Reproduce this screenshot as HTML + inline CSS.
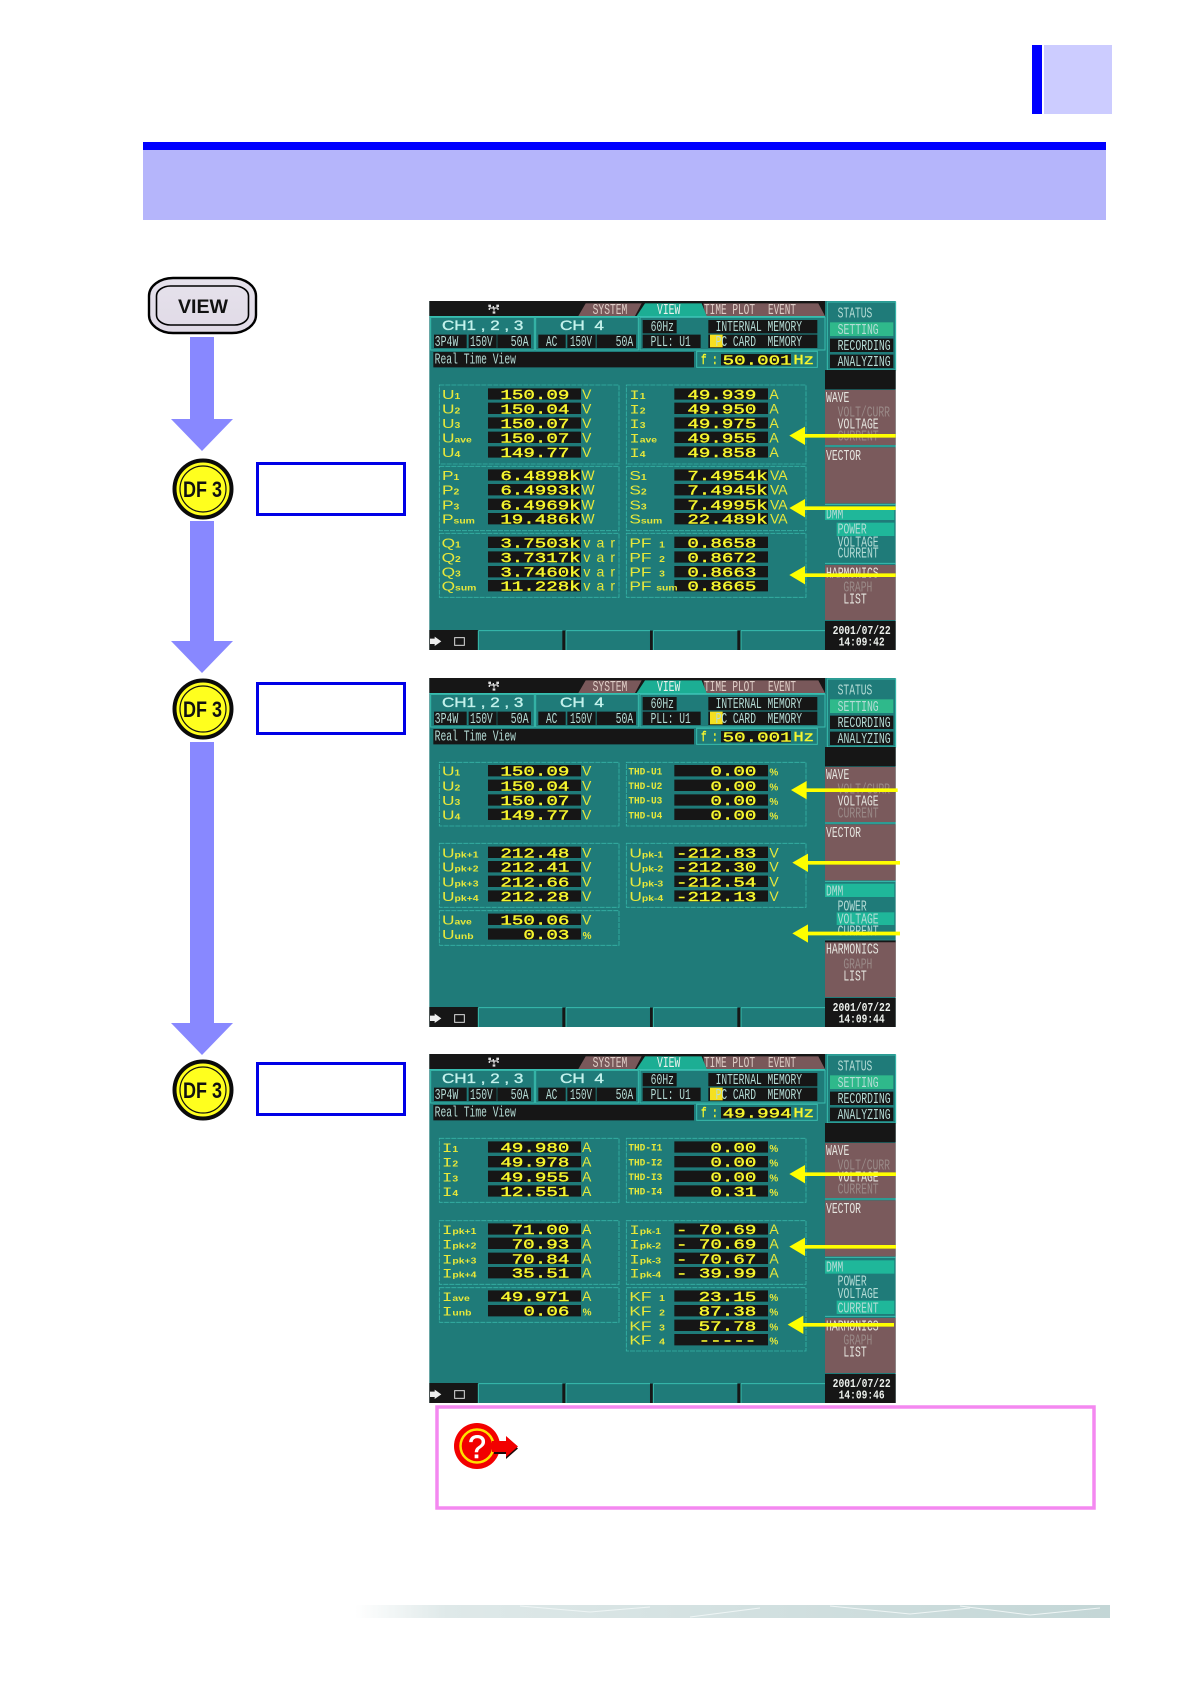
<!DOCTYPE html>
<html><head><meta charset="utf-8"><title>VIEW screens</title>
<style>
html,body{margin:0;padding:0;background:#fff}
svg{display:block}
text{white-space:pre}
.m{font-family:"Liberation Mono",monospace;font-size:44px;fill:#b5dcd6}
.w{fill:#e6e6e0}.d{fill:#9a8a88}.tb{fill:#e0cfc8}.wt{fill:#eef2ee}
.hd{font-family:"Liberation Sans",sans-serif;font-size:42px;fill:#c4f2ec;stroke:#c4f2ec;stroke-width:1}
.v{font-family:"Liberation Mono",monospace;font-size:42px;fill:#f6f62e;stroke:#f6f62e;stroke-width:1.2}
.u{font-family:"Liberation Sans",sans-serif;font-size:42px;fill:#e8e83a}
.l{font-family:"Liberation Sans",sans-serif;font-size:40px;fill:#e8e83a}
.li{font-family:"Liberation Mono",monospace;font-size:40px;fill:#e8e83a}
.s{font-size:24px;font-family:"Liberation Sans",sans-serif;font-weight:bold}
.t{font-family:"Liberation Mono",monospace;font-size:30px;fill:#e8e83a;font-weight:bold}
.p{font-family:"Liberation Sans",sans-serif;font-size:30px;fill:#e8e83a;font-weight:bold}
</style></head><body>
<svg width="1190" height="1684" viewBox="0 0 1190 1684" xmlns="http://www.w3.org/2000/svg">
<defs>
<linearGradient id="fg" x1="0" x2="1" y1="0" y2="0"><stop offset="0" stop-color="#fff"/><stop offset=".12" stop-color="#dfe9e9"/><stop offset="1" stop-color="#c3d6d6"/></linearGradient>
<linearGradient id="fv" x1="0" x2="0" y1="0" y2="1"><stop offset="0" stop-color="#e6e2ec"/><stop offset="1" stop-color="#e0dae6"/></linearGradient>
</defs>
<rect width="1190" height="1684" fill="#fff"/>
<!-- header -->
<rect x="1032" y="45" width="10" height="69" fill="#0000ff"/>
<rect x="1044" y="45" width="68" height="69" fill="#ccccff"/>
<rect x="143" y="142" width="963" height="8" fill="#0000ff"/>
<rect x="143" y="150" width="963" height="70" fill="#b5b5fb"/>
<!-- flow left -->
<rect x="149" y="278" width="107" height="55" rx="24" ry="18" fill="url(#fv)" stroke="#000" stroke-width="2.400"/>
<rect x="156.500" y="286" width="92" height="39" rx="14" ry="10" fill="none" stroke="#000" stroke-width="1.600"/>
<text x="178" y="313" textLength="50" lengthAdjust="spacingAndGlyphs" font-family="Liberation Sans,sans-serif" font-weight="bold" font-size="19" fill="#111">VIEW</text>
<g fill="#8888ff">
<path d="M190 337h24v82h19l-31 32-31-32h19z"/>
<path d="M190 521h24v120h19l-31 32-31-32h19z"/>
<path d="M190 742h24v281h19l-31 32-31-32h19z"/>
</g>
<g font-family="Liberation Sans,sans-serif" font-weight="bold" font-size="22" fill="#111">
<circle cx="203" cy="489" r="28.500" fill="#ffff1e" stroke="#0b0b0b" stroke-width="4"/><circle cx="203" cy="489" r="23" fill="none" stroke="#111" stroke-width="1.200"/><text x="183" y="497" textLength="39" lengthAdjust="spacingAndGlyphs">DF 3</text>
<circle cx="203" cy="709" r="28.500" fill="#ffff1e" stroke="#0b0b0b" stroke-width="4"/><circle cx="203" cy="709" r="23" fill="none" stroke="#111" stroke-width="1.200"/><text x="183" y="717" textLength="39" lengthAdjust="spacingAndGlyphs">DF 3</text>
<circle cx="203" cy="1090" r="28.500" fill="#ffff1e" stroke="#0b0b0b" stroke-width="4"/><circle cx="203" cy="1090" r="23" fill="none" stroke="#111" stroke-width="1.200"/><text x="183" y="1098" textLength="39" lengthAdjust="spacingAndGlyphs">DF 3</text>
</g>
<g fill="#fff" stroke="#0000e6" stroke-width="3">
<rect x="257.500" y="463.500" width="147" height="51"/>
<rect x="257.500" y="683.500" width="147" height="50"/>
<rect x="257.500" y="1063.500" width="147" height="51"/>
</g>

<!-- SCREEN 1 -->
<g transform="translate(420,290) scale(.33333)">
<rect x="28" y="33" width="1399" height="1047" fill="#1f7b79"/>
<rect x="28" y="33" width="1187" height="45" fill="#161616"/>
<rect x="28" y="78" width="1187" height="3" fill="#37bfb0"/>
<path d="M475 78l22-38h168l-20 38zM855 78l-5-38h170l25 38zM1020 40h175l20 38H1045z" fill="#79585a"/><path d="M650 78l25-38h170l15 38z" fill="#1cae94"/>
<path d="M220 48v6M208 54h26M208 54v6M234 54v6M222 54v8" stroke="#ddd" stroke-width="4" fill="none"/><path d="M205 44h8v7h-8zM229 44h8v7h-8zM218 64h8v7h-8z" fill="#ddd"/>
<text class="m tb" x="518" y="72" textLength="104" lengthAdjust="spacingAndGlyphs">SYSTEM</text><text class="m wt" x="711" y="72" textLength="70" lengthAdjust="spacingAndGlyphs">VIEW</text><text class="m tb" x="852" y="72" textLength="153" lengthAdjust="spacingAndGlyphs">TIME PLOT</text><text class="m tb" x="1044" y="72" textLength="84" lengthAdjust="spacingAndGlyphs">EVENT</text>
<g fill="none" stroke="#38bdae" stroke-width="3"><rect x="32" y="82" width="311" height="98"/><rect x="347" y="82" width="308" height="98"/><rect x="660" y="82" width="555" height="98"/><rect x="830" y="184" width="362" height="48"/></g>
<path d="M42 134h98v40H42zM146 134h84v40h-84zM232 134h101v40H232zM355 134h82v40h-82zM442 134h85v40h-85zM530 134h118v40H530zM668 90h102v40H668zM668 134h174v40H668zM865 90h327v40H865zM865 134h327v40H865zM40 186h782v46H40zM903 192h210v34H903z" fill="#161616"/>
<rect x="870" y="134" width="38" height="38" fill="#f5e020"/>
<text class="hd" x="66" y="120" textLength="244" lengthAdjust="spacingAndGlyphs">CH1 , 2 , 3</text><text class="hd" x="420" y="120" textLength="132" lengthAdjust="spacingAndGlyphs">CH  4</text>
<text class="m" x="44" y="168" textLength="71" lengthAdjust="spacingAndGlyphs">3P4W</text><text class="m" x="150" y="168" textLength="68" lengthAdjust="spacingAndGlyphs">150V</text><text class="m" x="272" y="168" textLength="54" lengthAdjust="spacingAndGlyphs">50A</text><text class="m" x="378" y="168" textLength="34" lengthAdjust="spacingAndGlyphs">AC</text><text class="m" x="450" y="168" textLength="66" lengthAdjust="spacingAndGlyphs">150V</text><text class="m" x="587" y="168" textLength="53" lengthAdjust="spacingAndGlyphs">50A</text>
<text class="m" x="692" y="123" textLength="70" lengthAdjust="spacingAndGlyphs">60Hz</text><text class="m" x="692" y="168" textLength="120" lengthAdjust="spacingAndGlyphs">PLL: U1</text><text class="m" x="887" y="123" textLength="259" lengthAdjust="spacingAndGlyphs">INTERNAL MEMORY</text><text class="m" x="887" y="168" textLength="259" lengthAdjust="spacingAndGlyphs">PC CARD  MEMORY</text>
<text class="m" x="44" y="220" textLength="244" lengthAdjust="spacingAndGlyphs">Real Time View</text>
<text class="v" x="843" y="222" textLength="50" lengthAdjust="spacingAndGlyphs">f :</text><text class="v" x="908" y="224" textLength="207" lengthAdjust="spacingAndGlyphs">50.001</text><text class="v" x="1120" y="222" textLength="62" lengthAdjust="spacingAndGlyphs">Hz</text>
<rect x="1222" y="36" width="205" height="204" fill="#1f7b79" stroke="#38bdae" stroke-width="3"/><rect x="1230" y="97" width="190" height="41" fill="#2fb98b"/><path d="M1230 146h190v40H1230zM1230 194h190v40H1230zM1215 240h212v58H1215zM1215 993h212v87H1215z" fill="#161616"/>
<path d="M1215 300h212v165H1215zM1215 472h212v168H1215zM1215 825h212v165H1215z" fill="#7a5a5c"/>
<rect x="1215" y="660" width="208" height="30" fill="#1fb79a"/><rect x="1250" y="698" width="173" height="40" fill="#1fb79a"/>
<path d="M1215 468h212M1215 643h212M1215 820h212" stroke="#38bdae" stroke-width="3"/>
<text class="m" x="1253" y="82" textLength="104" lengthAdjust="spacingAndGlyphs">STATUS</text><text class="m" x="1253" y="132" textLength="123" lengthAdjust="spacingAndGlyphs">SETTING</text><text class="m" x="1253" y="180" textLength="159" lengthAdjust="spacingAndGlyphs">RECORDING</text><text class="m" x="1253" y="228" textLength="159" lengthAdjust="spacingAndGlyphs">ANALYZING</text>
<text class="m w" x="1218" y="336" textLength="70" lengthAdjust="spacingAndGlyphs">WAVE</text><text class="m d" x="1253" y="380" textLength="157" lengthAdjust="spacingAndGlyphs">VOLT/CURR</text><text class="m w" x="1253" y="416" textLength="123" lengthAdjust="spacingAndGlyphs">VOLTAGE</text><text class="m d" x="1253" y="452" textLength="123" lengthAdjust="spacingAndGlyphs">CURRENT</text><text class="m w" x="1218" y="510" textLength="105" lengthAdjust="spacingAndGlyphs">VECTOR</text>
<text class="m" x="1218" y="686" textLength="52" lengthAdjust="spacingAndGlyphs">DMM</text><text class="m" x="1253" y="730" textLength="87" lengthAdjust="spacingAndGlyphs">POWER</text><text class="m" x="1253" y="770" textLength="123" lengthAdjust="spacingAndGlyphs">VOLTAGE</text><text class="m" x="1253" y="802" textLength="123" lengthAdjust="spacingAndGlyphs">CURRENT</text>
<text class="m w" x="1218" y="862" textLength="158" lengthAdjust="spacingAndGlyphs">HARMONICS</text><text class="m d" x="1270" y="904" textLength="87" lengthAdjust="spacingAndGlyphs">GRAPH</text><text class="m w" x="1270" y="940" textLength="70" lengthAdjust="spacingAndGlyphs">LIST</text>
<text class="m wt" x="1238" y="1032" textLength="174" lengthAdjust="spacingAndGlyphs" font-weight="bold" style="font-size:36px">2001/07/22</text><text class="m wt" x="1256" y="1066" textLength="138" lengthAdjust="spacingAndGlyphs" font-weight="bold" style="font-size:36px">14:09:42</text>
<path d="M28 1020h147v60H28zM427 1022h11v58h-11zM690 1022h10v58h-10zM952 1022h11v58h-11z" fill="#161616"/><path d="M175 1022h252M438 1022h252M700 1022h252M963 1022h252M175 1022v58M438 1022v58M700 1022v58M963 1022v58" stroke="#38bdae" stroke-width="3" fill="none"/>
<path d="M30 1046h14v-6l20 14-20 14v-6H30z" fill="#eee"/><rect x="104" y="1043" width="29" height="23" fill="none" stroke="#ddd" stroke-width="3"/>
<path d="M58 285H597V522H58zM619 285H1158V522H619zM58 529H597V722H58zM619 529H1158V722H619zM58 730H597V922H58zM619 730H1158V922H619z" fill="none" stroke="#36b5a8" stroke-width="2.500" stroke-dasharray="12 0 3 3"/>
<path d="M204 295h279v34H204zM204 338h279v34H204zM204 382h279v34H204zM204 425h279v34H204zM204 469h279v34H204zM204 538h279v34H204zM204 582h279v34H204zM204 626h279v34H204zM204 669h279v34H204zM204 740h279v34H204zM204 784h279v34H204zM204 828h279v34H204zM204 870h279v34H204zM763 295h281v34H763zM763 338h281v34H763zM763 382h281v34H763zM763 425h281v34H763zM763 469h281v34H763zM763 538h281v34H763zM763 582h281v34H763zM763 626h281v34H763zM763 669h281v34H763zM763 740h281v34H763zM763 784h281v34H763zM763 828h281v34H763zM763 870h281v34H763z" fill="#161616"/>
<g transform="translate(66,0) scale(1.3,1) translate(-66,0)">
<text class="l" x="66" y="327">U<tspan class="s">1</tspan></text><text class="l" x="66" y="370">U<tspan class="s">2</tspan></text><text class="l" x="66" y="414">U<tspan class="s">3</tspan></text><text class="l" x="66" y="457">U<tspan class="s">ave</tspan></text><text class="l" x="66" y="501">U<tspan class="s">4</tspan></text>
<text class="l" x="66" y="570">P<tspan class="s">1</tspan></text><text class="l" x="66" y="614">P<tspan class="s">2</tspan></text><text class="l" x="66" y="658">P<tspan class="s">3</tspan></text><text class="l" x="66" y="701">P<tspan class="s">sum</tspan></text>
<text class="l" x="65" y="772">Q<tspan class="s">1</tspan></text><text class="l" x="65" y="816">Q<tspan class="s">2</tspan></text><text class="l" x="65" y="860">Q<tspan class="s">3</tspan></text><text class="l" x="65" y="902">Q<tspan class="s">sum</tspan></text>
</g>
<text class="v" x="241" y="327" textLength="207" lengthAdjust="spacingAndGlyphs">150.09</text><text class="v" x="241" y="370" textLength="207" lengthAdjust="spacingAndGlyphs">150.04</text><text class="v" x="241" y="414" textLength="207" lengthAdjust="spacingAndGlyphs">150.07</text><text class="v" x="241" y="457" textLength="207" lengthAdjust="spacingAndGlyphs">150.07</text><text class="v" x="241" y="501" textLength="207" lengthAdjust="spacingAndGlyphs">149.77</text>
<text class="v" x="241" y="570" textLength="241" lengthAdjust="spacingAndGlyphs">6.4898k</text><text class="v" x="241" y="614" textLength="241" lengthAdjust="spacingAndGlyphs">6.4993k</text><text class="v" x="241" y="658" textLength="241" lengthAdjust="spacingAndGlyphs">6.4969k</text><text class="v" x="241" y="701" textLength="241" lengthAdjust="spacingAndGlyphs">19.486k</text>
<text class="v" x="241" y="772" textLength="241" lengthAdjust="spacingAndGlyphs">3.7503k</text><text class="v" x="241" y="816" textLength="241" lengthAdjust="spacingAndGlyphs">3.7317k</text><text class="v" x="241" y="860" textLength="241" lengthAdjust="spacingAndGlyphs">3.7460k</text><text class="v" x="241" y="902" textLength="241" lengthAdjust="spacingAndGlyphs">11.228k</text>
<text class="u" x="486" y="327">V</text><text class="u" x="486" y="370">V</text><text class="u" x="486" y="414">V</text><text class="u" x="486" y="457">V</text><text class="u" x="486" y="501">V</text>
<text class="u" x="484" y="570">W</text><text class="u" x="484" y="614">W</text><text class="u" x="484" y="658">W</text><text class="u" x="484" y="701">W</text>
<text class="u" x="490" y="772" textLength="95" lengthAdjust="spacing">var</text><text class="u" x="490" y="816" textLength="95" lengthAdjust="spacing">var</text><text class="u" x="490" y="860" textLength="95" lengthAdjust="spacing">var</text><text class="u" x="490" y="902" textLength="95" lengthAdjust="spacing">var</text>
<g transform="translate(628,0) scale(1.3,1) translate(-628,0)">
<text class="li" x="628" y="327">I<tspan class="s">1</tspan></text><text class="li" x="628" y="370">I<tspan class="s">2</tspan></text><text class="li" x="628" y="414">I<tspan class="s">3</tspan></text><text class="li" x="628" y="457">I<tspan class="s">ave</tspan></text><text class="li" x="628" y="501">I<tspan class="s">4</tspan></text>
<text class="l" x="628" y="570">S<tspan class="s">1</tspan></text><text class="l" x="628" y="614">S<tspan class="s">2</tspan></text><text class="l" x="628" y="658">S<tspan class="s">3</tspan></text><text class="l" x="628" y="701">S<tspan class="s">sum</tspan></text>
<text class="l" x="628" y="772">PF <tspan class="s"> 1</tspan></text><text class="l" x="628" y="816">PF <tspan class="s"> 2</tspan></text><text class="l" x="628" y="860">PF <tspan class="s"> 3</tspan></text><text class="l" x="628" y="902">PF <tspan class="s">sum</tspan></text>
</g>
<text class="v" x="802" y="327" textLength="207" lengthAdjust="spacingAndGlyphs">49.939</text><text class="v" x="802" y="370" textLength="207" lengthAdjust="spacingAndGlyphs">49.950</text><text class="v" x="802" y="414" textLength="207" lengthAdjust="spacingAndGlyphs">49.975</text><text class="v" x="802" y="457" textLength="207" lengthAdjust="spacingAndGlyphs">49.955</text><text class="v" x="802" y="501" textLength="207" lengthAdjust="spacingAndGlyphs">49.858</text>
<text class="v" x="802" y="570" textLength="241" lengthAdjust="spacingAndGlyphs">7.4954k</text><text class="v" x="802" y="614" textLength="241" lengthAdjust="spacingAndGlyphs">7.4945k</text><text class="v" x="802" y="658" textLength="241" lengthAdjust="spacingAndGlyphs">7.4995k</text><text class="v" x="802" y="701" textLength="241" lengthAdjust="spacingAndGlyphs">22.489k</text>
<text class="v" x="802" y="772" textLength="207" lengthAdjust="spacingAndGlyphs">0.8658</text><text class="v" x="802" y="816" textLength="207" lengthAdjust="spacingAndGlyphs">0.8672</text><text class="v" x="802" y="860" textLength="207" lengthAdjust="spacingAndGlyphs">0.8663</text><text class="v" x="802" y="902" textLength="207" lengthAdjust="spacingAndGlyphs">0.8665</text>
<text class="u" x="1048" y="327">A</text><text class="u" x="1048" y="370">A</text><text class="u" x="1048" y="414">A</text><text class="u" x="1048" y="457">A</text><text class="u" x="1048" y="501">A</text>
<text class="u" x="1050" y="570">VA</text><text class="u" x="1050" y="614">VA</text><text class="u" x="1050" y="658">VA</text><text class="u" x="1050" y="701">VA</text>
<g fill="#ffff00"><path d="M1108 437l47-27v22h272v11H1155v22z"/><path d="M1108 654l47-27v22h272v11H1155v22z"/><path d="M1108 855l47-27v22h272v11H1155v22z"/></g>
</g>

<!-- SCREEN 2 -->
<g transform="translate(420,667)  scale(.33333)">
<rect x="28" y="33" width="1399" height="1047" fill="#1f7b79"/>
<rect x="28" y="33" width="1187" height="45" fill="#161616"/>
<rect x="28" y="78" width="1187" height="3" fill="#37bfb0"/>
<path d="M475 78l22-38h168l-20 38zM855 78l-5-38h170l25 38zM1020 40h175l20 38H1045z" fill="#79585a"/><path d="M650 78l25-38h170l15 38z" fill="#1cae94"/>
<path d="M220 48v6M208 54h26M208 54v6M234 54v6M222 54v8" stroke="#ddd" stroke-width="4" fill="none"/><path d="M205 44h8v7h-8zM229 44h8v7h-8zM218 64h8v7h-8z" fill="#ddd"/>
<text class="m tb" x="518" y="72" textLength="104" lengthAdjust="spacingAndGlyphs">SYSTEM</text><text class="m wt" x="711" y="72" textLength="70" lengthAdjust="spacingAndGlyphs">VIEW</text><text class="m tb" x="852" y="72" textLength="153" lengthAdjust="spacingAndGlyphs">TIME PLOT</text><text class="m tb" x="1044" y="72" textLength="84" lengthAdjust="spacingAndGlyphs">EVENT</text>
<g fill="none" stroke="#38bdae" stroke-width="3"><rect x="32" y="82" width="311" height="98"/><rect x="347" y="82" width="308" height="98"/><rect x="660" y="82" width="555" height="98"/><rect x="830" y="184" width="362" height="48"/></g>
<path d="M42 134h98v40H42zM146 134h84v40h-84zM232 134h101v40H232zM355 134h82v40h-82zM442 134h85v40h-85zM530 134h118v40H530zM668 90h102v40H668zM668 134h174v40H668zM865 90h327v40H865zM865 134h327v40H865zM40 186h782v46H40zM903 192h210v34H903z" fill="#161616"/>
<rect x="870" y="134" width="38" height="38" fill="#f5e020"/>
<text class="hd" x="66" y="120" textLength="244" lengthAdjust="spacingAndGlyphs">CH1 , 2 , 3</text><text class="hd" x="420" y="120" textLength="132" lengthAdjust="spacingAndGlyphs">CH  4</text>
<text class="m" x="44" y="168" textLength="71" lengthAdjust="spacingAndGlyphs">3P4W</text><text class="m" x="150" y="168" textLength="68" lengthAdjust="spacingAndGlyphs">150V</text><text class="m" x="272" y="168" textLength="54" lengthAdjust="spacingAndGlyphs">50A</text><text class="m" x="378" y="168" textLength="34" lengthAdjust="spacingAndGlyphs">AC</text><text class="m" x="450" y="168" textLength="66" lengthAdjust="spacingAndGlyphs">150V</text><text class="m" x="587" y="168" textLength="53" lengthAdjust="spacingAndGlyphs">50A</text>
<text class="m" x="692" y="123" textLength="70" lengthAdjust="spacingAndGlyphs">60Hz</text><text class="m" x="692" y="168" textLength="120" lengthAdjust="spacingAndGlyphs">PLL: U1</text><text class="m" x="887" y="123" textLength="259" lengthAdjust="spacingAndGlyphs">INTERNAL MEMORY</text><text class="m" x="887" y="168" textLength="259" lengthAdjust="spacingAndGlyphs">PC CARD  MEMORY</text>
<text class="m" x="44" y="220" textLength="244" lengthAdjust="spacingAndGlyphs">Real Time View</text>
<text class="v" x="843" y="222" textLength="50" lengthAdjust="spacingAndGlyphs">f :</text><text class="v" x="908" y="224" textLength="207" lengthAdjust="spacingAndGlyphs">50.001</text><text class="v" x="1120" y="222" textLength="62" lengthAdjust="spacingAndGlyphs">Hz</text>
<rect x="1222" y="36" width="205" height="204" fill="#1f7b79" stroke="#38bdae" stroke-width="3"/><rect x="1230" y="97" width="190" height="41" fill="#2fb98b"/><path d="M1230 146h190v40H1230zM1230 194h190v40H1230zM1215 240h212v58H1215zM1215 993h212v87H1215z" fill="#161616"/>
<path d="M1215 300h212v165H1215zM1215 472h212v168H1215zM1215 825h212v165H1215z" fill="#7a5a5c"/>
<rect x="1215" y="650" width="208" height="40" fill="#1fb79a"/><rect x="1250" y="736" width="173" height="38" fill="#1fb79a"/>
<path d="M1215 468h212M1215 643h212M1215 820h212" stroke="#38bdae" stroke-width="3"/>
<text class="m" x="1253" y="82" textLength="104" lengthAdjust="spacingAndGlyphs">STATUS</text><text class="m" x="1253" y="132" textLength="123" lengthAdjust="spacingAndGlyphs">SETTING</text><text class="m" x="1253" y="180" textLength="159" lengthAdjust="spacingAndGlyphs">RECORDING</text><text class="m" x="1253" y="228" textLength="159" lengthAdjust="spacingAndGlyphs">ANALYZING</text>
<text class="m w" x="1218" y="336" textLength="70" lengthAdjust="spacingAndGlyphs">WAVE</text><text class="m d" x="1253" y="380" textLength="157" lengthAdjust="spacingAndGlyphs">VOLT/CURR</text><text class="m w" x="1253" y="416" textLength="123" lengthAdjust="spacingAndGlyphs">VOLTAGE</text><text class="m d" x="1253" y="452" textLength="123" lengthAdjust="spacingAndGlyphs">CURRENT</text><text class="m w" x="1218" y="510" textLength="105" lengthAdjust="spacingAndGlyphs">VECTOR</text>
<text class="m" x="1218" y="686" textLength="52" lengthAdjust="spacingAndGlyphs">DMM</text><text class="m" x="1253" y="730" textLength="87" lengthAdjust="spacingAndGlyphs">POWER</text><text class="m" x="1253" y="770" textLength="123" lengthAdjust="spacingAndGlyphs">VOLTAGE</text><text class="m" x="1253" y="806" textLength="123" lengthAdjust="spacingAndGlyphs">CURRENT</text>
<rect x="1215" y="820" width="212" height="6" fill="#161616"/><path d="M1215 826h212v164H1215z" fill="#7a5a5c"/>
<text class="m w" x="1218" y="860" textLength="158" lengthAdjust="spacingAndGlyphs">HARMONICS</text><text class="m d" x="1270" y="904" textLength="87" lengthAdjust="spacingAndGlyphs">GRAPH</text><text class="m w" x="1270" y="940" textLength="70" lengthAdjust="spacingAndGlyphs">LIST</text>
<text class="m wt" x="1238" y="1032" textLength="174" lengthAdjust="spacingAndGlyphs" font-weight="bold" style="font-size:36px">2001/07/22</text><text class="m wt" x="1256" y="1066" textLength="138" lengthAdjust="spacingAndGlyphs" font-weight="bold" style="font-size:36px">14:09:44</text>
<path d="M28 1020h147v60H28zM427 1022h11v58h-11zM690 1022h10v58h-10zM952 1022h11v58h-11z" fill="#161616"/><path d="M175 1022h252M438 1022h252M700 1022h252M963 1022h252M175 1022v58M438 1022v58M700 1022v58M963 1022v58" stroke="#38bdae" stroke-width="3" fill="none"/>
<path d="M30 1046h14v-6l20 14-20 14v-6H30z" fill="#eee"/><rect x="104" y="1043" width="29" height="23" fill="none" stroke="#ddd" stroke-width="3"/>
<path d="M58 286H597V477H58zM619 286H1158V477H619zM58 529H597V721H58zM619 529H1158V721H619zM58 731H597V835H58z" fill="none" stroke="#36b5a8" stroke-width="2.500" stroke-dasharray="12 0 3 3"/>
<path d="M204 294h279v34H204zM204 338h279v34H204zM204 382h279v34H204zM204 425h279v34H204zM204 539h279v34H204zM204 582h279v34H204zM204 626h279v34H204zM204 670h279v34H204zM204 740h279v34H204zM204 784h279v34H204zM763 294h281v34H763zM763 338h281v34H763zM763 382h281v34H763zM763 425h281v34H763zM763 539h281v34H763zM763 582h281v34H763zM763 626h281v34H763zM763 670h281v34H763z" fill="#161616"/>
<g transform="translate(66,0) scale(1.3,1) translate(-66,0)">
<text class="l" x="66" y="326">U<tspan class="s">1</tspan></text><text class="l" x="66" y="370">U<tspan class="s">2</tspan></text><text class="l" x="66" y="414">U<tspan class="s">3</tspan></text><text class="l" x="66" y="457">U<tspan class="s">4</tspan></text>
<text class="l" x="66" y="571">U<tspan class="s">pk+1</tspan></text><text class="l" x="66" y="614">U<tspan class="s">pk+2</tspan></text><text class="l" x="66" y="658">U<tspan class="s">pk+3</tspan></text><text class="l" x="66" y="702">U<tspan class="s">pk+4</tspan></text>
<text class="l" x="66" y="772">U<tspan class="s">ave</tspan></text><text class="l" x="66" y="816">U<tspan class="s">unb</tspan></text>
</g>
<text class="v" x="241" y="326" textLength="207" lengthAdjust="spacingAndGlyphs">150.09</text><text class="v" x="241" y="370" textLength="207" lengthAdjust="spacingAndGlyphs">150.04</text><text class="v" x="241" y="414" textLength="207" lengthAdjust="spacingAndGlyphs">150.07</text><text class="v" x="241" y="457" textLength="207" lengthAdjust="spacingAndGlyphs">149.77</text>
<text class="v" x="241" y="571" textLength="207" lengthAdjust="spacingAndGlyphs">212.48</text><text class="v" x="241" y="614" textLength="207" lengthAdjust="spacingAndGlyphs">212.41</text><text class="v" x="241" y="658" textLength="207" lengthAdjust="spacingAndGlyphs">212.66</text><text class="v" x="241" y="702" textLength="207" lengthAdjust="spacingAndGlyphs">212.28</text>
<text class="v" x="241" y="772" textLength="207" lengthAdjust="spacingAndGlyphs">150.06</text><text class="v" x="310" y="816" textLength="138" lengthAdjust="spacingAndGlyphs">0.03</text>
<text class="u" x="486" y="326">V</text><text class="u" x="486" y="370">V</text><text class="u" x="486" y="414">V</text><text class="u" x="486" y="457">V</text><text class="u" x="486" y="571">V</text><text class="u" x="486" y="614">V</text><text class="u" x="486" y="658">V</text><text class="u" x="486" y="702">V</text><text class="u" x="486" y="772">V</text><text class="p" x="488" y="816">%</text>
<text class="t" x="625" y="322" textLength="102" lengthAdjust="spacingAndGlyphs">THD-U1</text><text class="t" x="625" y="366" textLength="102" lengthAdjust="spacingAndGlyphs">THD-U2</text><text class="t" x="625" y="410" textLength="102" lengthAdjust="spacingAndGlyphs">THD-U3</text><text class="t" x="625" y="454" textLength="102" lengthAdjust="spacingAndGlyphs">THD-U4</text>
<g transform="translate(628,0) scale(1.3,1) translate(-628,0)">
<text class="l" x="628" y="571">U<tspan class="s">pk-1</tspan></text><text class="l" x="628" y="614">U<tspan class="s">pk-2</tspan></text><text class="l" x="628" y="658">U<tspan class="s">pk-3</tspan></text><text class="l" x="628" y="702">U<tspan class="s">pk-4</tspan></text>
</g>
<text class="v" x="871" y="326" textLength="138" lengthAdjust="spacingAndGlyphs">0.00</text><text class="v" x="871" y="370" textLength="138" lengthAdjust="spacingAndGlyphs">0.00</text><text class="v" x="871" y="414" textLength="138" lengthAdjust="spacingAndGlyphs">0.00</text><text class="v" x="871" y="457" textLength="138" lengthAdjust="spacingAndGlyphs">0.00</text>
<text class="v" x="768" y="571" textLength="241" lengthAdjust="spacingAndGlyphs">-212.83</text><text class="v" x="768" y="614" textLength="241" lengthAdjust="spacingAndGlyphs">-212.30</text><text class="v" x="768" y="658" textLength="241" lengthAdjust="spacingAndGlyphs">-212.54</text><text class="v" x="768" y="702" textLength="241" lengthAdjust="spacingAndGlyphs">-212.13</text>
<text class="p" x="1048" y="326">%</text><text class="p" x="1048" y="370">%</text><text class="p" x="1048" y="414">%</text><text class="p" x="1048" y="457">%</text>
<text class="u" x="1048" y="571">V</text><text class="u" x="1048" y="614">V</text><text class="u" x="1048" y="658">V</text><text class="u" x="1048" y="702">V</text>
<g fill="#ffff00" transform="translate(0,9)"><path d="M1113 360l47-27v22h273v11H1160v22z"/><path d="M1117 578l47-27v22h276v11H1164v22z"/><path d="M1117 790l47-27v22h276v11H1164v22z"/></g>
</g>

<!-- SCREEN 3 -->
<g transform="translate(420,1043) scale(.33333)">
<rect x="28" y="33" width="1399" height="1047" fill="#1f7b79"/>
<rect x="28" y="33" width="1187" height="45" fill="#161616"/>
<rect x="28" y="78" width="1187" height="3" fill="#37bfb0"/>
<path d="M475 78l22-38h168l-20 38zM855 78l-5-38h170l25 38zM1020 40h175l20 38H1045z" fill="#79585a"/><path d="M650 78l25-38h170l15 38z" fill="#1cae94"/>
<path d="M220 48v6M208 54h26M208 54v6M234 54v6M222 54v8" stroke="#ddd" stroke-width="4" fill="none"/><path d="M205 44h8v7h-8zM229 44h8v7h-8zM218 64h8v7h-8z" fill="#ddd"/>
<text class="m tb" x="518" y="72" textLength="104" lengthAdjust="spacingAndGlyphs">SYSTEM</text><text class="m wt" x="711" y="72" textLength="70" lengthAdjust="spacingAndGlyphs">VIEW</text><text class="m tb" x="852" y="72" textLength="153" lengthAdjust="spacingAndGlyphs">TIME PLOT</text><text class="m tb" x="1044" y="72" textLength="84" lengthAdjust="spacingAndGlyphs">EVENT</text>
<g fill="none" stroke="#38bdae" stroke-width="3"><rect x="32" y="82" width="311" height="98"/><rect x="347" y="82" width="308" height="98"/><rect x="660" y="82" width="555" height="98"/><rect x="830" y="184" width="362" height="48"/></g>
<path d="M42 134h98v40H42zM146 134h84v40h-84zM232 134h101v40H232zM355 134h82v40h-82zM442 134h85v40h-85zM530 134h118v40H530zM668 90h102v40H668zM668 134h174v40H668zM865 90h327v40H865zM865 134h327v40H865zM40 186h782v46H40zM903 192h210v34H903z" fill="#161616"/>
<rect x="870" y="134" width="38" height="38" fill="#f5e020"/>
<text class="hd" x="66" y="120" textLength="244" lengthAdjust="spacingAndGlyphs">CH1 , 2 , 3</text><text class="hd" x="420" y="120" textLength="132" lengthAdjust="spacingAndGlyphs">CH  4</text>
<text class="m" x="44" y="168" textLength="71" lengthAdjust="spacingAndGlyphs">3P4W</text><text class="m" x="150" y="168" textLength="68" lengthAdjust="spacingAndGlyphs">150V</text><text class="m" x="272" y="168" textLength="54" lengthAdjust="spacingAndGlyphs">50A</text><text class="m" x="378" y="168" textLength="34" lengthAdjust="spacingAndGlyphs">AC</text><text class="m" x="450" y="168" textLength="66" lengthAdjust="spacingAndGlyphs">150V</text><text class="m" x="587" y="168" textLength="53" lengthAdjust="spacingAndGlyphs">50A</text>
<text class="m" x="692" y="123" textLength="70" lengthAdjust="spacingAndGlyphs">60Hz</text><text class="m" x="692" y="168" textLength="120" lengthAdjust="spacingAndGlyphs">PLL: U1</text><text class="m" x="887" y="123" textLength="259" lengthAdjust="spacingAndGlyphs">INTERNAL MEMORY</text><text class="m" x="887" y="168" textLength="259" lengthAdjust="spacingAndGlyphs">PC CARD  MEMORY</text>
<text class="m" x="44" y="220" textLength="244" lengthAdjust="spacingAndGlyphs">Real Time View</text>
<text class="v" x="843" y="222" textLength="50" lengthAdjust="spacingAndGlyphs">f :</text><text class="v" x="908" y="224" textLength="207" lengthAdjust="spacingAndGlyphs">49.994</text><text class="v" x="1120" y="222" textLength="62" lengthAdjust="spacingAndGlyphs">Hz</text>
<rect x="1222" y="36" width="205" height="204" fill="#1f7b79" stroke="#38bdae" stroke-width="3"/><rect x="1230" y="97" width="190" height="41" fill="#2fb98b"/><path d="M1230 146h190v40H1230zM1230 194h190v40H1230zM1215 240h212v58H1215zM1215 993h212v87H1215z" fill="#161616"/>
<path d="M1215 300h212v165H1215zM1215 472h212v168H1215zM1215 825h212v165H1215z" fill="#7a5a5c"/>
<rect x="1215" y="652" width="208" height="40" fill="#1fb79a"/><rect x="1250" y="773" width="173" height="40" fill="#1fb79a"/>
<path d="M1215 468h212M1215 643h212M1215 820h212" stroke="#38bdae" stroke-width="3"/>
<text class="m" x="1253" y="82" textLength="104" lengthAdjust="spacingAndGlyphs">STATUS</text><text class="m" x="1253" y="132" textLength="123" lengthAdjust="spacingAndGlyphs">SETTING</text><text class="m" x="1253" y="180" textLength="159" lengthAdjust="spacingAndGlyphs">RECORDING</text><text class="m" x="1253" y="228" textLength="159" lengthAdjust="spacingAndGlyphs">ANALYZING</text>
<text class="m w" x="1218" y="336" textLength="70" lengthAdjust="spacingAndGlyphs">WAVE</text><text class="m d" x="1253" y="380" textLength="157" lengthAdjust="spacingAndGlyphs">VOLT/CURR</text><text class="m w" x="1253" y="416" textLength="123" lengthAdjust="spacingAndGlyphs">VOLTAGE</text><text class="m d" x="1253" y="452" textLength="123" lengthAdjust="spacingAndGlyphs">CURRENT</text><text class="m w" x="1218" y="510" textLength="105" lengthAdjust="spacingAndGlyphs">VECTOR</text>
<text class="m" x="1218" y="686" textLength="52" lengthAdjust="spacingAndGlyphs">DMM</text><text class="m" x="1253" y="728" textLength="87" lengthAdjust="spacingAndGlyphs">POWER</text><text class="m" x="1253" y="765" textLength="123" lengthAdjust="spacingAndGlyphs">VOLTAGE</text><text class="m" x="1253" y="808" textLength="123" lengthAdjust="spacingAndGlyphs">CURRENT</text>
<text class="m w" x="1218" y="862" textLength="158" lengthAdjust="spacingAndGlyphs">HARMONICS</text><text class="m d" x="1270" y="904" textLength="87" lengthAdjust="spacingAndGlyphs">GRAPH</text><text class="m w" x="1270" y="940" textLength="70" lengthAdjust="spacingAndGlyphs">LIST</text>
<text class="m wt" x="1238" y="1032" textLength="174" lengthAdjust="spacingAndGlyphs" font-weight="bold" style="font-size:36px">2001/07/22</text><text class="m wt" x="1256" y="1066" textLength="138" lengthAdjust="spacingAndGlyphs" font-weight="bold" style="font-size:36px">14:09:46</text>
<path d="M28 1020h147v60H28zM427 1022h11v58h-11zM690 1022h10v58h-10zM952 1022h11v58h-11z" fill="#161616"/><path d="M175 1022h252M438 1022h252M700 1022h252M963 1022h252M175 1022v58M438 1022v58M700 1022v58M963 1022v58" stroke="#38bdae" stroke-width="3" fill="none"/>
<path d="M30 1046h14v-6l20 14-20 14v-6H30z" fill="#eee"/><rect x="104" y="1043" width="29" height="23" fill="none" stroke="#ddd" stroke-width="3"/>
<path d="M58 286H597V478H58zM619 286H1158V478H619zM58 533H597V724H58zM619 533H1158V724H619zM58 734H597V838H58zM619 734H1158V924H619z" fill="none" stroke="#36b5a8" stroke-width="2.500" stroke-dasharray="12 0 3 3"/>
<path d="M204 295h279v34H204zM204 339h279v34H204zM204 383h279v34H204zM204 427h279v34H204zM204 541h279v34H204zM204 584h279v34H204zM204 629h279v34H204zM204 672h279v34H204zM204 742h279v34H204zM204 786h279v34H204zM763 295h281v34H763zM763 339h281v34H763zM763 383h281v34H763zM763 427h281v34H763zM763 541h281v34H763zM763 584h281v34H763zM763 629h281v34H763zM763 672h281v34H763zM763 742h281v34H763zM763 786h281v34H763zM763 830h281v34H763zM763 873h281v34H763z" fill="#161616"/>
<g transform="translate(66,0) scale(1.3,1) translate(-66,0)">
<text class="li" x="66" y="327">I<tspan class="s">1</tspan></text><text class="li" x="66" y="371">I<tspan class="s">2</tspan></text><text class="li" x="66" y="415">I<tspan class="s">3</tspan></text><text class="li" x="66" y="459">I<tspan class="s">4</tspan></text>
<text class="li" x="66" y="573">I<tspan class="s">pk+1</tspan></text><text class="li" x="66" y="616">I<tspan class="s">pk+2</tspan></text><text class="li" x="66" y="661">I<tspan class="s">pk+3</tspan></text><text class="li" x="66" y="704">I<tspan class="s">pk+4</tspan></text>
<text class="li" x="66" y="774">I<tspan class="s">ave</tspan></text><text class="li" x="66" y="818">I<tspan class="s">unb</tspan></text>
</g>
<text class="v" x="241" y="327" textLength="207" lengthAdjust="spacingAndGlyphs">49.980</text><text class="v" x="241" y="371" textLength="207" lengthAdjust="spacingAndGlyphs">49.978</text><text class="v" x="241" y="415" textLength="207" lengthAdjust="spacingAndGlyphs">49.955</text><text class="v" x="241" y="459" textLength="207" lengthAdjust="spacingAndGlyphs">12.551</text>
<text class="v" x="275" y="573" textLength="173" lengthAdjust="spacingAndGlyphs">71.00</text><text class="v" x="275" y="616" textLength="173" lengthAdjust="spacingAndGlyphs">70.93</text><text class="v" x="275" y="661" textLength="173" lengthAdjust="spacingAndGlyphs">70.84</text><text class="v" x="275" y="704" textLength="173" lengthAdjust="spacingAndGlyphs">35.51</text>
<text class="v" x="241" y="774" textLength="207" lengthAdjust="spacingAndGlyphs">49.971</text><text class="v" x="310" y="818" textLength="138" lengthAdjust="spacingAndGlyphs">0.06</text>
<text class="u" x="486" y="327">A</text><text class="u" x="486" y="371">A</text><text class="u" x="486" y="415">A</text><text class="u" x="486" y="459">A</text><text class="u" x="486" y="573">A</text><text class="u" x="486" y="616">A</text><text class="u" x="486" y="661">A</text><text class="u" x="486" y="704">A</text><text class="u" x="486" y="774">A</text><text class="p" x="488" y="818">%</text>
<text class="t" x="625" y="323" textLength="102" lengthAdjust="spacingAndGlyphs">THD-I1</text><text class="t" x="625" y="367" textLength="102" lengthAdjust="spacingAndGlyphs">THD-I2</text><text class="t" x="625" y="411" textLength="102" lengthAdjust="spacingAndGlyphs">THD-I3</text><text class="t" x="625" y="455" textLength="102" lengthAdjust="spacingAndGlyphs">THD-I4</text>
<g transform="translate(628,0) scale(1.3,1) translate(-628,0)">
<text class="li" x="628" y="573">I<tspan class="s">pk-1</tspan></text><text class="li" x="628" y="616">I<tspan class="s">pk-2</tspan></text><text class="li" x="628" y="661">I<tspan class="s">pk-3</tspan></text><text class="li" x="628" y="704">I<tspan class="s">pk-4</tspan></text>
<text class="l" x="628" y="774">KF <tspan class="s"> 1</tspan></text><text class="l" x="628" y="818">KF <tspan class="s"> 2</tspan></text><text class="l" x="628" y="862">KF <tspan class="s"> 3</tspan></text><text class="l" x="628" y="905">KF <tspan class="s"> 4</tspan></text>
</g>
<text class="v" x="871" y="327" textLength="138" lengthAdjust="spacingAndGlyphs">0.00</text><text class="v" x="871" y="371" textLength="138" lengthAdjust="spacingAndGlyphs">0.00</text><text class="v" x="871" y="415" textLength="138" lengthAdjust="spacingAndGlyphs">0.00</text><text class="v" x="871" y="459" textLength="138" lengthAdjust="spacingAndGlyphs">0.31</text>
<text class="v" x="768" y="573" textLength="241" lengthAdjust="spacingAndGlyphs">- 70.69</text><text class="v" x="768" y="616" textLength="241" lengthAdjust="spacingAndGlyphs">- 70.69</text><text class="v" x="768" y="661" textLength="241" lengthAdjust="spacingAndGlyphs">- 70.67</text><text class="v" x="768" y="704" textLength="241" lengthAdjust="spacingAndGlyphs">- 39.99</text>
<text class="v" x="836" y="774" textLength="173" lengthAdjust="spacingAndGlyphs">23.15</text><text class="v" x="836" y="818" textLength="173" lengthAdjust="spacingAndGlyphs">87.38</text><text class="v" x="836" y="862" textLength="173" lengthAdjust="spacingAndGlyphs">57.78</text><text class="v" x="836" y="905" textLength="173" lengthAdjust="spacingAndGlyphs">-----</text>
<text class="p" x="1048" y="327">%</text><text class="p" x="1048" y="371">%</text><text class="p" x="1048" y="415">%</text><text class="p" x="1048" y="459">%</text>
<text class="u" x="1048" y="573">A</text><text class="u" x="1048" y="616">A</text><text class="u" x="1048" y="661">A</text><text class="u" x="1048" y="704">A</text>
<text class="p" x="1048" y="774">%</text><text class="p" x="1048" y="818">%</text><text class="p" x="1048" y="862">%</text><text class="p" x="1048" y="905">%</text>
<g fill="#ffff00" transform="translate(0,21)"><path d="M1108 372l47-27v22h273v11H1155v22z"/><path d="M1108 590l47-27v22h273v11H1155v22z"/><path d="M1103 824l47-27v22h272v11H1150v22z"/></g>
</g>

<!-- note box -->
<rect x="437" y="1407" width="657" height="101" fill="#fff" stroke="#f488f0" stroke-width="3.500"/>
<circle cx="477" cy="1446" r="23" fill="#f20000"/>
<circle cx="477" cy="1446" r="16.500" fill="none" stroke="#ffe000" stroke-width="2.500"/>
<path d="M494 1443h12v-5l12 10.500-12 10.500v-5h-12z" fill="#1a0a0a"/>
<path d="M492 1441h14v-5l12 10.500-12 10.500v-5h-14z" fill="#f20000"/>
<text x="477" y="1458" text-anchor="middle" font-family="Liberation Sans,sans-serif" font-size="32" fill="#fff" stroke="#fff" stroke-width=".6">?</text>
<!-- footer -->
<rect x="355" y="1605" width="755" height="13" fill="url(#fg)"/>
<path d="M520 1606l70 6 60-5M690 1617l70-9M830 1606l80 8 60-6M960 1606l70 9 70-7" stroke="#eef5f5" stroke-width="1" fill="none"/>
</svg>
</body></html>
